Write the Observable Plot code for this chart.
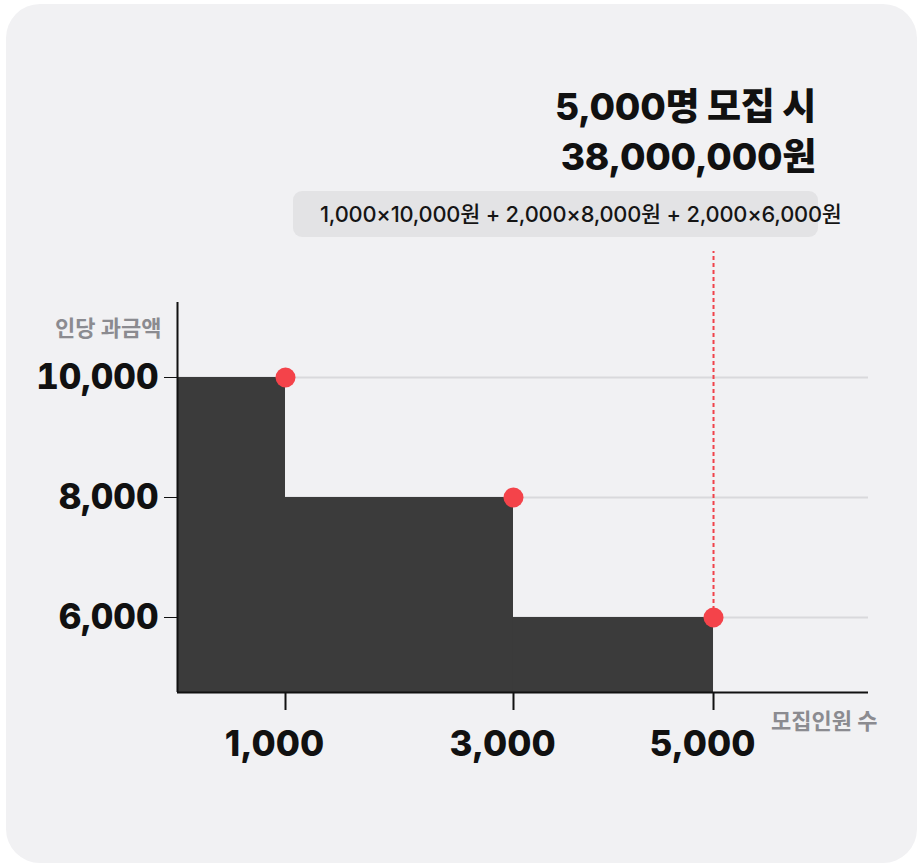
<!DOCTYPE html>
<html>
<head>
<meta charset="utf-8">
<script src="https://cdn.jsdelivr.net/npm/d3@7"></script>
<script src="https://cdn.jsdelivr.net/npm/@observablehq/plot@0.6"></script>
<style>
  html, body { margin: 0; padding: 0; background: #ffffff; }
  body { width: 919px; height: 865px; position: relative; overflow: hidden;
         font-family: "Inter", "Noto Sans CJK KR", sans-serif; }
  #card { position: absolute; left: 6px; top: 4px; width: 911px; height: 859px;
          background: #f1f1f3; border-radius: 34px; }
  #chart { position: absolute; left: 0; top: 0; }
  .title { position: absolute; right: 103px; top: 82px; text-align: right;
           font-size: 37px; font-weight: 800; line-height: 50px; color: #111;
           letter-spacing: -0.3px; }
  #box { position: absolute; left: 293px; top: 191px; width: 525px; height: 46px;
         background: #e3e3e5; border-radius: 9px; }
  #formula { position: absolute; left: 320px; top: 201px; font-size: 21.8px;
             font-weight: 500; color: #151515; white-space: nowrap; line-height: 26px;
             letter-spacing: -0.2px; }
  .axlabel { position: absolute; font-size: 22px; font-weight: 700; color: #8b8b90;
             white-space: nowrap; line-height: 24px; }
</style>
</head>
<body>
<div id="card"></div>
<div id="chart"></div>
<div class="title" id="title"></div>
<div id="box"></div>
<div id="formula"></div>
<div class="axlabel" id="ylab" style="left:55px; top:316px;"></div>
<div class="axlabel" id="xlab" style="left:771px; top:709px;"></div>
<script>
// ---- data ----
const headcount = [1000, 3000, 5000];       // cumulative recruits at end of each tier
const tierStart = [0, 1000, 3000];          // recruits at start of each tier
const pricePerPerson = [10000, 8000, 6000]; // per-person fee in each tier
const xTicks = [1000, 3000, 5000];
const yTicks = [6000, 8000, 10000];
const titleLines = ["5,000명 모집 시", "38,000,000원"];
const formulaText = "1,000×10,000원 + 2,000×8,000원 + 2,000×6,000원";
const yLabel = "인당 과금액";
const xLabel = "모집인원 수";
// the reference axis is drawn unevenly (stretched between 1,000 and 3,000)
const xWarpIn = [0, 1000, 3000, 5000, 6500];
const xWarpOut = [0, 1000, 3111, 4963, 6398];
const xDomain = [0, 6398];
const yDomain = [4750, 11250];
const guideTop = 12100;
const xTickEnd = 4450;

const tiers = headcount.map((h, i) => ({start: tierStart[i], end: h, price: pricePerPerson[i]}));

document.getElementById("title").innerHTML = titleLines.join("<br>");
document.getElementById("formula").textContent = formulaText;
document.getElementById("ylab").textContent = yLabel;
document.getElementById("xlab").textContent = xLabel;

const warp = d3.scaleLinear(xWarpIn, xWarpOut);
const fmt = d3.format(",");
const chart = Plot.plot({
  width: 919,
  height: 865,
  marginLeft: 177,
  marginRight: 51,
  marginTop: 302,
  marginBottom: 173,
  style: {background: "transparent", fontFamily: "Inter, 'Noto Sans CJK KR', sans-serif",
          fontSize: "35px", fontWeight: 800, color: "#111", overflow: "visible"},
  x: {domain: xDomain, transform: warp, axis: null},
  y: {domain: yDomain, ticks: yTicks, tickFormat: fmt, tickSize: 13, tickPadding: 6, label: null},
  marks: [
    Plot.gridY(yTicks, {stroke: "#d9d9dc", strokeOpacity: 1, strokeWidth: 1.5}),
    Plot.rect(tiers, {x1: "start", x2: "end", y1: yDomain[0], y2: "price", fill: "#3b3b3b"}),
    Plot.ruleX([headcount[2]], {y1: pricePerPerson[2], y2: guideTop, stroke: "#f0424a",
      strokeWidth: 2, strokeDasharray: "4,3"}),
    Plot.ruleX([0], {stroke: "#111", strokeWidth: 2}),
    // x-axis ticks and labels
    Plot.ruleX(xTicks, {x: d => d, y1: yDomain[0], y2: xTickEnd, stroke: "#111", strokeWidth: 2.5}),
    Plot.ruleY([yDomain[0]], {stroke: "#111", strokeWidth: 2.5}),
    Plot.text(xTicks, {x: d => d, text: d => fmt(d), frameAnchor: "bottom", dy: 63, dx: -11,
      fill: "#111", fontSize: 35, fontWeight: 800}),
    Plot.dot(tiers, {x: "end", y: "price", r: 10, fill: "#f4434a", stroke: null})
  ]
});
chart.querySelectorAll("line").forEach(l => { if (!l.getAttribute("stroke-width")) l.setAttribute("stroke-width", 2); });
document.getElementById("chart").appendChild(chart);
</script>
</body>
</html>
